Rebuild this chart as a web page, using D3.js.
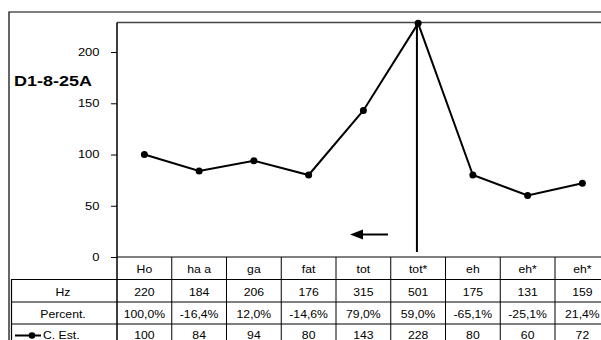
<!DOCTYPE html>
<html><head><meta charset="utf-8">
<script src="https://cdn.jsdelivr.net/npm/d3@7"></script>
<style>html,body{margin:0;padding:0;background:#fff;overflow:hidden}svg{display:block}</style>
</head><body>
<svg id="c" width="601" height="340"></svg>
<script>
const categories = ["Ho","ha a","ga","fat","tot","tot*","eh","eh*","eh*"];
const hzValues = ["220","184","206","176","315","501","175","131","159"];
const percentValues = ["100,0%","-16,4%","12,0%","-14,6%","79,0%","59,0%","-65,1%","-25,1%","21,4%"];
const cEst = [100,84,94,80,143,228,80,60,72];
const yTicks = [0,50,100,150,200];
const rowLabels = ["Hz","Percent.","C. Est."];
const chartTitle = "D1-8-25A";

(function(){
const svg = d3.select("#c");
const font = "Liberation Sans, Arial, sans-serif";
const plotLeft = 117, plotTop = 22.5, plotBottom = 257, colW = 54.75;
const x = d3.scaleBand().domain(d3.range(categories.length)).range([plotLeft, plotLeft + colW*categories.length]);
const y = d3.scaleLinear().domain([0, 230]).range([plotBottom, 21.3]);

function txt(cx, cy, s, opts){
  opts = opts || {};
  const sx = opts.sx || 1.08;
  return svg.append("text")
    .attr("transform",`translate(${cx},${cy}) scale(${sx},1)`)
    .attr("text-anchor", opts.anchor || "middle")
    .attr("font-family",font).attr("font-size",opts.size || 11.3)
    .attr("font-weight",opts.weight || "normal").attr("fill","#000").text(s);
}

// outer border
svg.append("path").attr("d","M9,340V12H601").attr("fill","none").attr("stroke","#000").attr("stroke-width",1.2);
// plot top line
svg.append("line").attr("x1",plotLeft).attr("x2",601).attr("y1",plotTop).attr("y2",plotTop).attr("stroke","#444").attr("stroke-width",1.5);

// y axis
const tsx = 1.2;
const ya = d3.axisLeft(y).tickValues(yTicks).tickSize(6).tickPadding(11.5).tickFormat(d3.format("d"));
const gy = svg.append("g").attr("transform",`translate(${plotLeft},0)`).call(ya);
gy.select(".domain").remove();
gy.selectAll("line").attr("stroke","#000");
gy.selectAll("text").attr("font-family",font).attr("font-size",10.8).attr("fill","#000")
  .attr("x",-17.5/tsx).attr("transform",`scale(${tsx},1)`);
svg.append("line").attr("x1",plotLeft).attr("x2",plotLeft).attr("y1",plotTop).attr("y2",340).attr("stroke","#000").attr("stroke-width",1.5);

// title
txt(14, 86, chartTitle, {anchor:"start", size:15, weight:"bold", sx:1.2});

// table
const rowY = [257, 279.5, 302, 324, 346];
svg.append("line").attr("x1",plotLeft).attr("x2",601).attr("y1",rowY[0]).attr("y2",rowY[0]).attr("stroke","#000");
[1,2,3].forEach(i=>{
  svg.append("line").attr("x1",11).attr("x2",601).attr("y1",rowY[i]).attr("y2",rowY[i]).attr("stroke","#000");
});
svg.append("line").attr("x1",11.5).attr("x2",11.5).attr("y1",rowY[1]).attr("y2",340).attr("stroke","#000").attr("stroke-width",1.2);
categories.forEach((c,i)=>{
  if(i>0) svg.append("line").attr("x1",x(i)).attr("x2",x(i)).attr("y1",plotBottom).attr("y2",340).attr("stroke","#000");
});
const rows = [categories, hzValues, percentValues, cEst.map(String)];
const baseY = [272.5, 295.5, 317.5, 338.5];
rows.forEach((r,ri)=>{
  r.forEach((v,i)=>{ txt(x(i)+x.bandwidth()/2, baseY[ri], v); });
});
txt(63, baseY[1], rowLabels[0]);
txt(63, baseY[2], rowLabels[1]);
txt(43, baseY[3], rowLabels[2], {anchor:"start"});
// legend symbol
svg.append("line").attr("x1",15).attr("x2",41).attr("y1",335.5).attr("y2",335.5).attr("stroke","#000").attr("stroke-width",2);
svg.append("circle").attr("cx",32).attr("cy",335.5).attr("r",3.3).attr("fill","#000");

// annotation vertical line & arrow
const vx = x(5)+x.bandwidth()/2 - 1.2;
svg.append("line").attr("x1",vx).attr("x2",vx).attr("y1",plotTop).attr("y2",252).attr("stroke","#000").attr("stroke-width",2);
svg.append("line").attr("x1",362).attr("x2",388).attr("y1",234.5).attr("y2",234.5).attr("stroke","#000").attr("stroke-width",2);
svg.append("path").attr("d","M350,234.5L363,229.5L363,239.5Z").attr("fill","#000");

// series line
const line = d3.line().x((d,i)=>x(i)+x.bandwidth()/2).y(d=>y(d));
svg.append("path").datum(cEst).attr("d",line).attr("fill","none").attr("stroke","#000").attr("stroke-width",2);
svg.selectAll("circle.pt").data(cEst).enter().append("circle").attr("class","pt")
  .attr("cx",(d,i)=>x(i)+x.bandwidth()/2).attr("cy",d=>y(d)).attr("r",3.5).attr("fill","#000");
})();
</script>
</body></html>
